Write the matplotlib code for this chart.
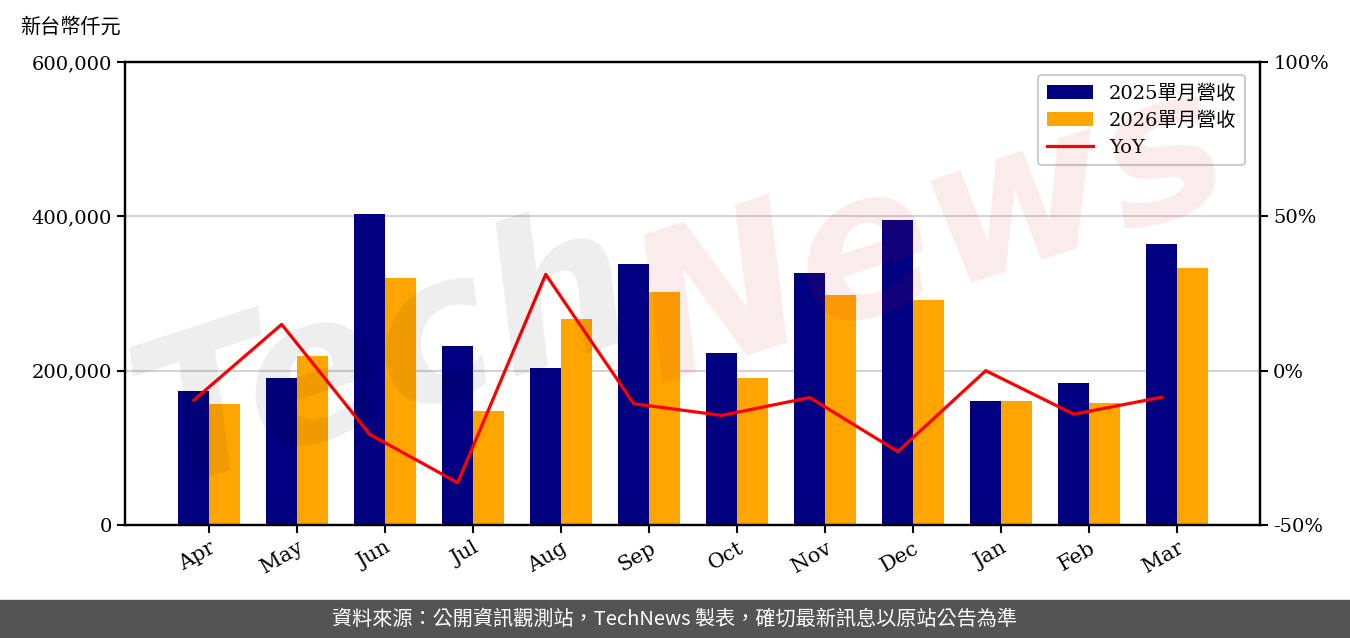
import numpy as np
import matplotlib.pyplot as plt
from matplotlib.ticker import FuncFormatter

plt.rcParams['font.family'] = ['DejaVu Serif', 'Noto Sans CJK TC']

# 月份與營收資料(新台幣仟元)
months = ['Apr', 'May', 'Jun', 'Jul', 'Aug', 'Sep', 'Oct', 'Nov', 'Dec', 'Jan', 'Feb', 'Mar']
rev_2025 = [173700, 190500, 403000, 232000, 203500, 338200, 222900, 326600, 395300, 160700, 184000, 364200]
rev_2026 = [156800, 219000, 320100, 147700, 267000, 302000, 190500, 298100, 291600, 160700, 158100, 333000]
yoy = [-9.6, 15.0, -20.6, -36.3, 31.2, -10.7, -14.5, -8.7, -26.2, 0.0, -14.1, -8.6]

fig = plt.figure(figsize=(13.5, 6.38), dpi=100)
ax = fig.add_axes([0.0926, 0.1771, 0.8407, 0.7257])

x = np.arange(len(months))
w = 0.35
ax.bar(x - w/2, rev_2025, width=w, color='#000080', label='2025單月營收', zorder=2)
ax.bar(x + w/2, rev_2026, width=w, color='#FFA500', label='2026單月營收', zorder=2)
ax.set_ylim(0, 600000)
ax.set_yticks([0, 200000, 400000, 600000])
ax.yaxis.set_major_formatter(FuncFormatter(lambda v, p: f'{int(v):,}'))
ax.set_xlim(-0.955, 11.94)
ax.set_xticks(x)
ax.set_xticklabels(months, rotation=30, ha='right', rotation_mode='anchor', fontsize=15)
ax.grid(True, axis='y', color='#d3d3d3', linewidth=1.5, zorder=0)
ax.set_axisbelow(True)
ax.tick_params(axis='y', labelsize=14)
ax.tick_params(width=1.5, length=6)
for s in ax.spines.values():
    s.set_linewidth(1.6)

ax2 = ax.twinx()
ln, = ax2.plot(x - w/2, yoy, color='#FF0000', linewidth=2.3, label='YoY', zorder=3)
ax2.set_ylim(-50, 100)
ax2.set_yticks([-50, 0, 50, 100])
ax2.yaxis.set_major_formatter(FuncFormatter(lambda v, p: f'{int(v)}%'))
ax2.tick_params(labelsize=14, width=1.5, length=6)
for s in ax2.spines.values():
    s.set_linewidth(1.6)

h1, l1 = ax.get_legend_handles_labels()
leg = ax2.legend(h1 + [ln], l1 + ['YoY'], loc='upper right', fontsize=14,
                 bbox_to_anchor=(0.9955, 0.992), handlelength=2.4, labelspacing=0.45,
                 borderpad=0.45, framealpha=1)
leg.get_frame().set_edgecolor('#cccccc')
leg.get_frame().set_linewidth(1.5)

fig.text(0.015, 0.958, '新台幣仟元', fontsize=14.5, ha='left', va='center',
         family=['Noto Sans CJK TC'])

# 浮水印
fig.text(0.285, 0.44, 'Tech', fontsize=145, color='black', alpha=0.07,
         rotation=18, ha='center', va='center', family='DejaVu Sans',
         fontweight='bold', fontstyle='italic', zorder=10)
fig.text(0.69, 0.63, 'News', fontsize=145, color='#d02030', alpha=0.09,
         rotation=18, ha='center', va='center', family='DejaVu Sans',
         fontweight='bold', fontstyle='italic', zorder=10)

# 頁尾
fig.patches.append(plt.Rectangle((0, 0), 1, 38/638, transform=fig.transFigure,
                                 color='#545454', zorder=0))
fig.text(0.5, 19/638, '資料來源：公開資訊觀測站，TechNews 製表，確切最新訊息以原站公告為準',
         color='white', fontsize=14.5, ha='center', va='center',
         family=['Noto Sans CJK TC', 'DejaVu Sans'])

plt.savefig('out.png', dpi=100)
